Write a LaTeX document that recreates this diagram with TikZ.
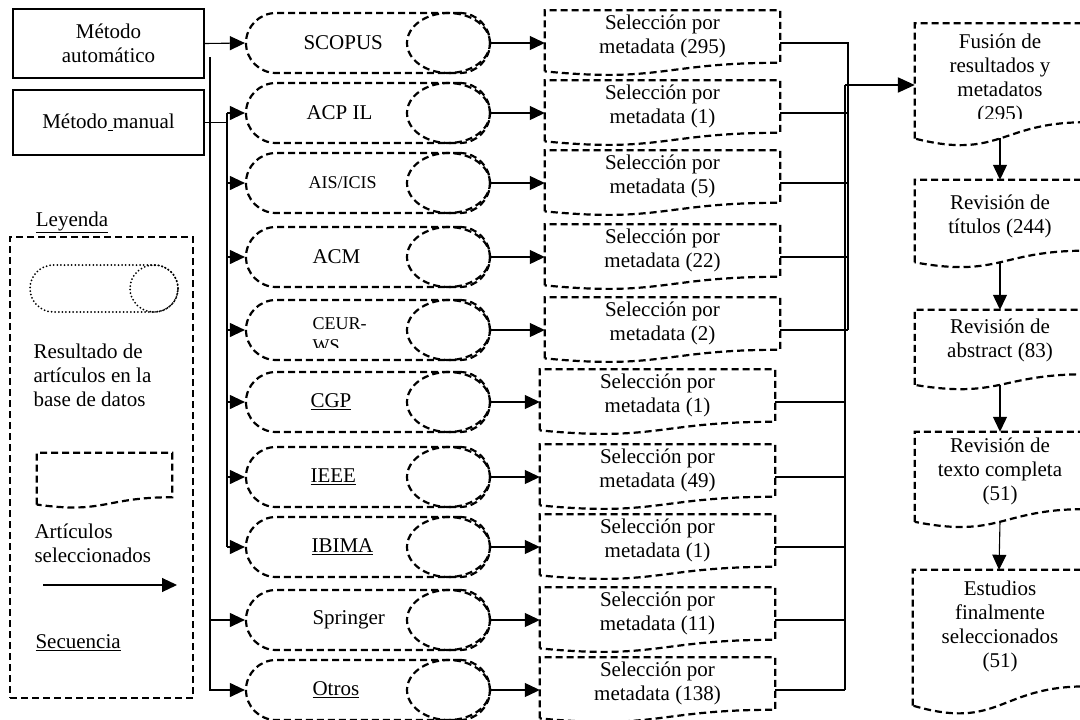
\documentclass[tikz,border=0pt]{standalone}
\usepackage{fontspec}
\setmainfont{Liberation Serif}
\usetikzlibrary{arrows.meta,calc,shapes.geometric}

\tikzset{
  dashline/.style={line width=2.2pt, dash pattern=on 7pt off 4pt},
  dotline/.style={line width=2pt, dash pattern=on 0pt off 3.6pt, line cap=round},
  method/.style={draw, line width=2.2pt, minimum width=191pt, align=center},
  dbpill/.style={draw, dashline, rounded corners=30pt, minimum width=244pt, minimum height=60pt},
  dbend/.style={draw, dashline, ellipse, inner sep=0pt, minimum width=83pt, minimum height=60pt, anchor=east},
  docbox/.style={inner sep=0pt, minimum width=235pt, minimum height=65pt},
  doctext/.style={align=center},
  smallfont/.style={font=\fontsize{18}{22}\selectfont},
  seq/.style={line width=1.1pt, -{Triangle[length=15pt,width=14pt]}},
  busline/.style={line width=2.2pt},
}
% outline of a document shape drawn on the anchors of a node
\newcommand\docline[1]{%
  \draw[dashline] ($(#1.north west)!0.934!(#1.south west)$) -- (#1.north west) -- (#1.north east)
    -- ($(#1.north east)!0.802!(#1.south east)$)
    .. controls ($(#1.north)!0.802!(#1.south)$) and ($(#1.north)!1.108!(#1.south)$)
    .. ($(#1.north west)!0.934!(#1.south west)$);}

\begin{document}
\begin{tikzpicture}[x=1pt, y=-1pt, font=\fontsize{21}{24}\selectfont]
  \useasboundingbox (0,0) rectangle (1080,720);

  % search methods
  \node[method, minimum height=69pt] (auto) at (108.5,43.5) {Método\\automático};
  \node[method, minimum height=65pt] (man) at (108.5,122.5) {Método\underline{\ }manual};

  % databases
  \foreach \i/\y in {1/43,2/113,3/183,4/257,5/330,6/402,7/477,8/547,9/620,10/690}{
    \node[dbpill] (d\i) at (368,\y) {};
    \node[dbend] (e\i) at (d\i.east) {};
  }
  \node[anchor=west] (t1) at (300,43) {SCOPUS};
  \node[anchor=west] (t2) at (303,113) {ACP IL};
  \node[anchor=west, smallfont] (t3) at (305,183) {AIS/ICIS};
  \node[anchor=west] (t4) at (309,257) {ACM};
  \begin{scope}
    \clip (250,290) rectangle (400,347);
    \node[anchor=west, smallfont, align=left] (t5) at (309,335) {CEUR-\\WS};
  \end{scope}
  \node[anchor=west] (t6) at (307,402) {\underline{CGP}};
  \node[anchor=west] (t7) at (307,477) {\underline{IEEE}};
  \node[anchor=west] (t8) at (308,547) {\underline{IBIMA}};
  \node[anchor=west] (t9) at (309,620) {Springer};
  \node[anchor=west] (t10) at (309,690) {\underline{Otros}};

  \draw[seq] (auto.east) -- (d1.west);
  \coordinate (atap) at (210,57);
  \draw[seq] (atap) |- (d10.west);
  \draw[seq] (atap |- d9.west) -- (d9.west);
  \coordinate (mtap) at (227,113);
  \draw[line width=1.1pt] (man.east) -- (man.east -| mtap);
  \draw[busline] (mtap) -- (mtap |- d8.west);
  \foreach \i in {2,...,8}
    \draw[seq] (mtap |- d\i.west) -- (d\i.west);

  % selection by metadata
  \foreach \i/\y/\n in {1/43/295,2/113/1,3/183/5,4/257/22,5/330/2,6/402/1,7/477/49,8/547/1,9/620/11,10/690/138}{
    \pgfmathsetmacro\sx{\i<6 ? 662.5 : 657.5}
    \node[docbox] (s\i) at (\sx,\y) {};
    \node[doctext] (st\i) at ([yshift=6.5pt]s\i.center) {Selección por\\metadata (\n)};
    \docline{s\i}
    \draw[seq] (e\i.east) -- (s\i.west);
  }

  % merge bus
  \coordinate (jn) at (848,330);
  \coordinate (bustop) at (845,85);
  \draw[line width=1.1pt] (s1.east) -| (jn);
  \foreach \i in {2,...,5}
    \draw[line width=1.1pt] (s\i.east) -- (s\i.east -| jn);
  \foreach \i in {6,...,10}
    \draw[line width=1.1pt] (s\i.east) -- (s\i.east -| bustop);
  \draw[line width=2.6pt] (bustop) -- (bustop |- s10.east);

  % review stages
  \node[inner sep=0pt, minimum width=170pt, minimum height=123pt] (fus) at (1000,85) {};
  \node[inner sep=0pt, minimum width=170pt, minimum height=88pt] (r1) at (1000,224) {};
  \node[inner sep=0pt, minimum width=170pt, minimum height=80pt] (r2) at (1000,350) {};
  \node[inner sep=0pt, minimum width=170pt, minimum height=96pt] (r3) at (1000,480) {};
  \node[inner sep=0pt, minimum width=172pt, minimum height=145pt] (r4) at (999,642.5) {};
  \foreach \n in {fus,r1,r2,r3,r4}{
    \docline{\n}
  }
  \begin{scope}
    \clip (915,23) rectangle (1085,118);
    \node[doctext] (fust) at (1000,79.5) {Fusión de\\resultados y\\metadatos\\(295)};
  \end{scope}
  \node[doctext] (r1t) at (1000,216) {Revisión de\\títulos (244)};
  \node[doctext] (r2t) at (1000,340) {Revisión de\\abstract (83)};
  \node[doctext] (r3t) at (1000,471.5) {Revisión de\\texto completa\\(51)};
  \node[doctext] (r4t) at (1000,626) {Estudios\\finalmente\\seleccionados\\(51)};

  \draw[line width=2.2pt, -{Triangle[length=17pt,width=15pt]}] (bustop) -- (fus.west);
  \foreach \a/\b in {fus/r1,r1/r2,r2/r3,r3/r4}{
    \draw[seq] ($(\a.north)!0.933!(\a.south)$) -- (\b.north);
  }

  % legend
  \node (legtitle) at (72,222) {\underline{Leyenda}};
  \node[draw, dashline, minimum width=183pt, minimum height=461pt] (legbox) at (101.5,467.5) {};
  \node[draw, dotline, rounded corners=23.5pt, minimum width=148pt, minimum height=47pt] (lpill) at (104,288.5) {};
  \node[draw, dotline, ellipse, inner sep=0pt, minimum width=48pt, minimum height=47pt, anchor=east] (lell) at (lpill.east) {};
  \node[anchor=west, align=left] (ltext1) at (30,375.5) {Resultado de\\artículos en la\\base de datos};
  \node[inner sep=0pt, minimum width=135pt, minimum height=55pt] (ldoc) at (104.5,480.5) {};
  \docline{ldoc}
  \node[anchor=west, align=left] (ltext2) at (31,543.5) {Artículos\\seleccionados};
  \coordinate (la) at (43,585);
  \coordinate (lb) at (177,585);
  \draw[seq] (la) -- (lb);
  \node[anchor=west] (ltext3) at (32,643) {\underline{Secuencia}};
\end{tikzpicture}
\end{document}
